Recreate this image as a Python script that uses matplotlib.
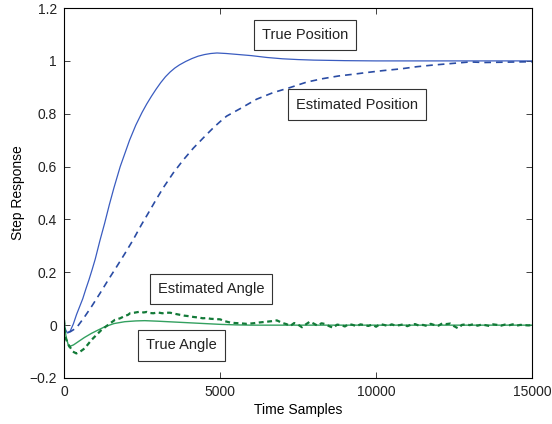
import matplotlib
matplotlib.use("Agg")
import matplotlib.pyplot as plt
from matplotlib.ticker import FuncFormatter

plt.rcParams['font.family'] = ['Liberation Sans', 'DejaVu Sans']

# True position (solid blue)
tp_x = [0, 60, 120, 200, 300, 400, 500, 600, 700, 800, 900, 1000, 1150, 1300, 1450, 1600,
        1800, 1950, 2100, 2300, 2500, 2650, 2800, 2950, 3100, 3250, 3400, 3550, 3700, 3900,
        4100, 4300, 4500, 4700, 4900, 5200, 5500, 6000, 6500, 7000, 7500, 8000, 9000, 10000, 15000]
tp_y = [0.0, -0.02, -0.03, -0.022, 0.005, 0.04, 0.07, 0.1, 0.137, 0.172, 0.21, 0.25, 0.32, 0.385,
        0.455, 0.52, 0.60, 0.65, 0.70, 0.757, 0.805, 0.837, 0.866, 0.893, 0.918, 0.94, 0.958,
        0.973, 0.985, 0.998, 1.009, 1.018, 1.024, 1.028, 1.03, 1.028, 1.025, 1.02, 1.013, 1.008,
        1.005, 1.003, 1.001, 1.0, 1.0]

# Estimated position (dashed blue)
ep_x = [0, 20, 200, 400, 650, 880, 1150, 1410, 1680, 1945, 2200, 2480, 2680, 2950, 3180, 3500,
        3820, 4145, 4465, 4785, 5000, 5210, 5640, 6170, 6700, 7240, 7780, 8300, 8800, 9300,
        9700, 10200, 10800, 11300, 11800, 12400, 13000, 13500, 14000, 14500, 15000]
ep_y = [0.0, -0.03, -0.025, -0.01, 0.03, 0.07, 0.12, 0.17, 0.22, 0.27, 0.32, 0.38, 0.42, 0.475,
        0.52, 0.576, 0.625, 0.67, 0.709, 0.747, 0.77, 0.791, 0.819, 0.855, 0.88, 0.899, 0.92,
        0.933, 0.943, 0.95, 0.956, 0.963, 0.97, 0.978, 0.984, 0.99, 0.996, 0.994, 0.995, 0.996,
        0.997]

# True angle (solid green)
ta_x = [0, 60, 150, 300, 450, 650, 880, 1100, 1310, 1600, 1945, 2300, 2585, 3000, 3500, 4000,
        4500, 5000, 5500, 6000, 15000]
ta_y = [0.02, -0.04, -0.082, -0.075, -0.063, -0.047, -0.031, -0.018, -0.006, 0.006, 0.013,
        0.016, 0.017, 0.015, 0.012, 0.009, 0.006, 0.003, 0.001, 0.0, 0.0]

# Estimated angle (dashed green): transient part
ea_x = [0, 50, 150, 280, 395, 520, 660, 770, 880, 1040, 1200, 1400, 1630, 1800, 1950, 2050,
        2115, 2250, 2435, 2550, 2650, 2750, 2860, 3000, 3150, 3250, 3400, 3550, 3720, 3850,
        4000, 4145, 4300, 4450, 4570, 4700, 4850, 5000, 5150, 5320, 5480, 5640, 5850, 6060,
        6250, 6500, 6650, 6820, 7000]
ea_y = [0.02, -0.05, -0.075, -0.1, -0.107, -0.1, -0.088, -0.072, -0.056, -0.037, -0.018, 0.0,
        0.02, 0.026, 0.035, 0.039, 0.045, 0.047, 0.051, 0.048, 0.05, 0.046, 0.045, 0.048, 0.045,
        0.047, 0.047, 0.043, 0.039, 0.036, 0.034, 0.031, 0.029, 0.026, 0.027, 0.024, 0.023,
        0.022, 0.015, 0.01, 0.008, 0.007, 0.005, 0.007, 0.01, 0.013, 0.015, 0.018, 0.008]
# Estimated angle: steady-state jitter, one value every 125 samples from 7125 to 15000
ea_tail_y = [0.004, -0.003, 0.008, 0.002, -0.008, 0.003, 0.013, 0.006,
             -0.002, 0.007, 0.004, -0.004, -0.010, 0.002, 0.000, -0.005,
             0.004, 0.001, -0.004, 0.003, 0.000, -0.003, 0.002, -0.006,
             0.004, 0.001, -0.003, 0.003, -0.002, 0.000, 0.003, -0.004,
             0.002, 0.004, -0.002, 0.001, -0.003, 0.005, 0.000, -0.002,
             0.007, 0.004, 0.006, -0.004, -0.012, 0.001, 0.003, 0.000,
             0.004, -0.002, 0.002, 0.000, -0.003, 0.003, 0.001, -0.002,
             0.002, -0.001, 0.003, -0.002, 0.001, 0.000, -0.001, 0.000]
ea_tail_x = list(range(7125, 15001, 125))

x_ticks = [0, 5000, 10000, 15000]
y_ticks = [-0.2, 0, 0.2, 0.4, 0.6, 0.8, 1.0, 1.2]

labels = ["True Position", "Estimated Position", "Estimated Angle", "True Angle"]
label_pos = [(7720, 1.097), (9390, 0.835), (4710, 0.137), (3770, -0.077)]

fig = plt.figure(figsize=(5.52, 4.24), dpi=100)
ax = fig.add_axes([0.116, 0.1085, 0.848, 0.8725])

ax.plot(tp_x, tp_y, color='#3a5cc0', lw=0.9)
ax.plot(ep_x, ep_y, color='#2a4ca4', lw=1.2, dashes=(4, 3))
ax.plot(ta_x, ta_y, color='#33a060', lw=1.0)
ax.plot(ea_x + ea_tail_x, ea_y + ea_tail_y, color='#137a38', lw=1.6, dashes=(2.2, 1.6))

ax.set_xlim(0, 15000)
ax.set_ylim(-0.2, 1.2)
ax.set_xticks(x_ticks)
ax.set_yticks(y_ticks)
ax.yaxis.set_major_formatter(FuncFormatter(lambda v, p: ('%g' % round(v, 2)).replace('-', '\u2212')))
ax.tick_params(direction='in', top=True, right=True, length=4, width=0.6, labelsize=10,
               colors='#222222', pad=5)
for s in ax.spines.values():
    s.set_linewidth(0.8)
ax.set_xlabel("Time Samples", fontsize=10, labelpad=3)
ax.set_ylabel("Step Response", fontsize=10, labelpad=3)

for t, (x, y) in zip(labels, label_pos):
    ax.text(x, y, t, fontsize=10.5, ha='center', va='center', color='#222222',
            bbox=dict(boxstyle='square,pad=0.55', fc='white', ec='#333333', lw=0.8))

fig.savefig("out.png", dpi=100)
